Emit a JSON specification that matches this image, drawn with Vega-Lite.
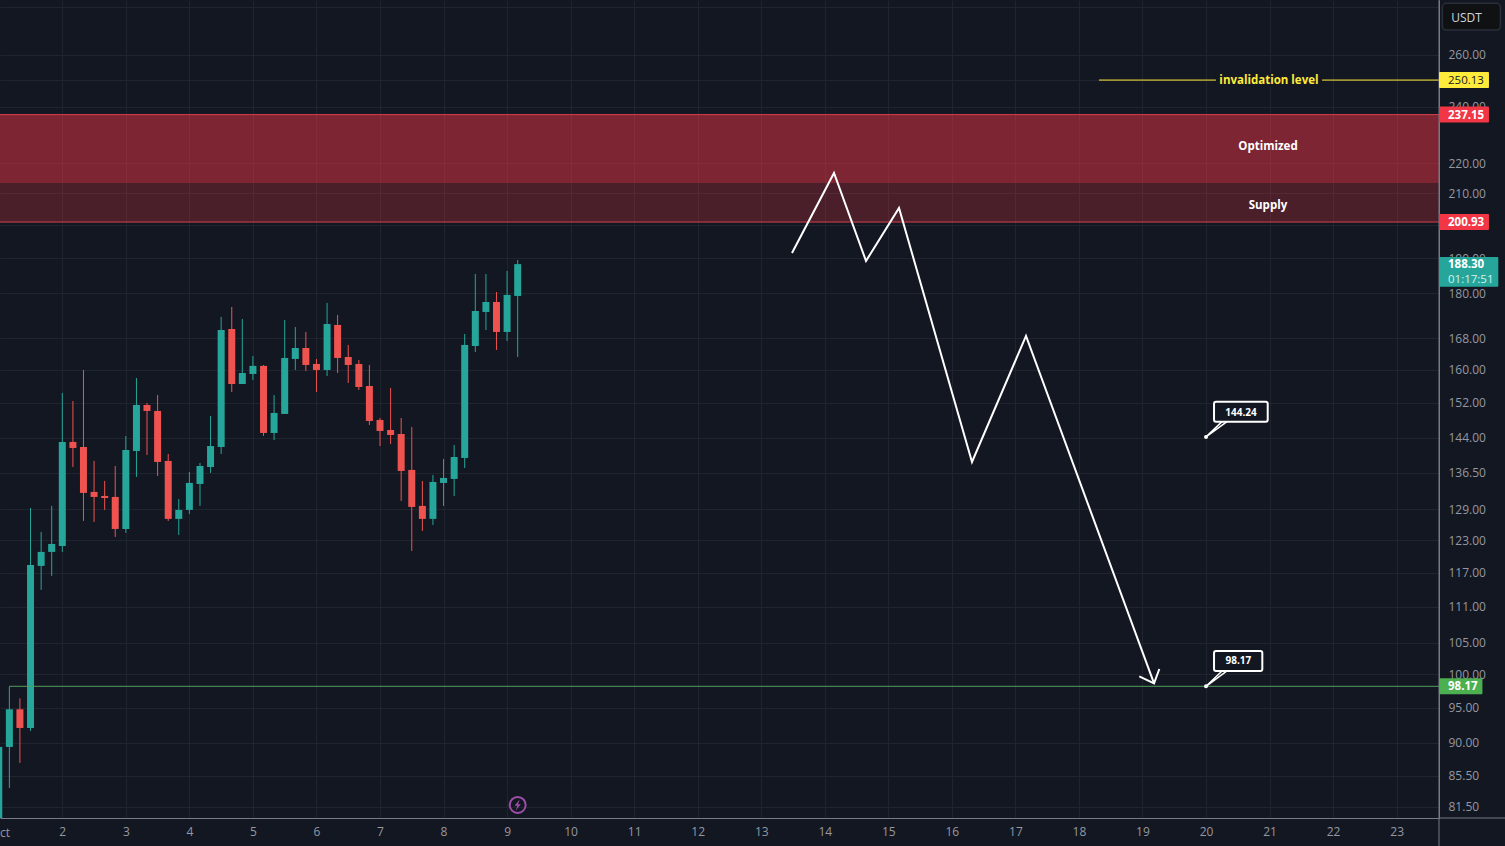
{"$schema":"https://vega.github.io/schema/vega-lite/v6.json","width":1439,"height":818,"autosize":{"type":"none"},"padding":{"left":0,"top":0,"right":66,"bottom":28},"background":"#131722","config":{"view":{"stroke":null},"font":"Open Sans"},
"datasets":{"candles":[
{"day":1.000,"open":78,"high":90,"low":76,"close":89.4},
{"day":1.167,"open":89.40,"high":98.10,"low":83.92,"close":94.75},
{"day":1.333,"open":94.75,"high":96.37,"low":87.22,"close":92.06},
{"day":1.500,"open":92.06,"high":129.27,"low":91.64,"close":118.39},
{"day":1.667,"open":118.21,"high":124.57,"low":113.91,"close":120.79},
{"day":1.833,"open":120.79,"high":129.67,"low":116.40,"close":122.28},
{"day":2.000,"open":121.91,"high":154.36,"low":120.79,"close":143.12},
{"day":2.167,"open":143.12,"high":152.46,"low":137.70,"close":141.80},
{"day":2.333,"open":142.01,"high":159.93,"low":126.70,"close":132.30},
{"day":2.500,"open":132.50,"high":138.99,"low":126.51,"close":131.48},
{"day":2.667,"open":131.68,"high":134.76,"low":128.87,"close":131.27},
{"day":2.833,"open":131.48,"high":137.91,"low":123.61,"close":125.14},
{"day":3.000,"open":125.14,"high":144.45,"low":124.38,"close":141.36},
{"day":3.167,"open":141.14,"high":157.97,"low":135.60,"close":151.52},
{"day":3.333,"open":151.52,"high":151.99,"low":140.27,"close":150.13},
{"day":3.500,"open":150.13,"high":153.88,"low":135.80,"close":138.77},
{"day":3.667,"open":138.99,"high":140.49,"low":126.70,"close":127.10},
{"day":3.833,"open":127.10,"high":131.07,"low":123.99,"close":128.87},
{"day":4.000,"open":128.87,"high":136.65,"low":128.08,"close":134.35},
{"day":4.167,"open":134.14,"high":138.56,"low":129.67,"close":137.91},
{"day":4.333,"open":137.70,"high":148.97,"low":136.44,"close":142.22},
{"day":4.500,"open":142.01,"high":173.56,"low":140.49,"close":170.11},
{"day":4.667,"open":170.37,"high":176.26,"low":154.59,"close":156.51},
{"day":4.833,"open":156.51,"high":173.02,"low":156.51,"close":159.19},
{"day":5.000,"open":158.95,"high":163.42,"low":157.48,"close":160.94},
{"day":5.167,"open":160.94,"high":161.17,"low":144.45,"close":145.12},
{"day":5.333,"open":145.12,"high":153.88,"low":143.56,"close":149.67},
{"day":5.500,"open":149.44,"high":172.75,"low":149.44,"close":162.92},
{"day":5.667,"open":162.67,"high":170.89,"low":159.93,"close":165.45},
{"day":5.833,"open":165.45,"high":169.59,"low":159.68,"close":161.17},
{"day":6.000,"open":161.42,"high":162.67,"low":154.59,"close":159.93},
{"day":6.167,"open":159.93,"high":177.35,"low":158.45,"close":171.69},
{"day":6.333,"open":171.43,"high":174.09,"low":159.19,"close":162.92},
{"day":6.500,"open":163.17,"high":166.22,"low":156.75,"close":161.17},
{"day":6.667,"open":161.42,"high":162.42,"low":155.07,"close":155.79},
{"day":6.833,"open":156.03,"high":161.17,"low":146.92,"close":147.83},
{"day":7.000,"open":148.06,"high":148.51,"low":142.22,"close":145.57},
{"day":7.167,"open":145.79,"high":155.55,"low":142.67,"close":144.67},
{"day":7.333,"open":144.89,"high":148.51,"low":130.67,"close":136.86},
{"day":7.500,"open":137.07,"high":146.46,"low":120.97,"close":129.47},
{"day":7.667,"open":129.67,"high":134.76,"low":124.76,"close":127.10},
{"day":7.833,"open":127.10,"high":136.02,"low":125.91,"close":134.56},
{"day":8.000,"open":134.35,"high":139.41,"low":129.67,"close":135.39},
{"day":8.167,"open":135.18,"high":142.45,"low":131.68,"close":139.84},
{"day":8.333,"open":139.63,"high":169.07,"low":137.49,"close":166.22},
{"day":8.500,"open":165.96,"high":185.46,"low":164.43,"close":175.17},
{"day":8.667,"open":174.90,"high":185.46,"low":170.11,"close":177.62},
{"day":8.833,"open":177.62,"high":180.38,"low":164.94,"close":169.59},
{"day":9.000,"open":169.59,"high":186.32,"low":167.25,"close":179.56},
{"day":9.167,"open":179.28,"high":189.51,"low":163.17,"close":188.30}
],
"paths":[
{"path":"projection","seq":1,"day":13.484,"price":191.56},
{"path":"projection","seq":2,"day":14.145,"price":216.73},
{"path":"projection","seq":3,"day":14.649,"price":189.22},
{"path":"projection","seq":4,"day":15.168,"price":205.34},
{"path":"projection","seq":5,"day":16.317,"price":138.77},
{"path":"projection","seq":6,"day":17.167,"price":168.55},
{"path":"projection","seq":7,"day":19.182,"price":98.62},
{"path":"arrowhead","seq":1,"day":18.95,"price":99.70},
{"path":"arrowhead","seq":2,"day":19.182,"price":98.62},
{"path":"arrowhead","seq":3,"day":19.265,"price":100.83}
],
"tails":[
{"path":"t144","seq":1,"day":20.252,"price":147.67},
{"path":"t144","seq":2,"day":20.0,"price":144.24},
{"path":"t144","seq":3,"day":20.33,"price":147.67},
{"path":"t98","seq":1,"day":20.252,"price":100.52},
{"path":"t98","seq":2,"day":20.0,"price":98.17},
{"path":"t98","seq":3,"day":20.33,"price":100.52}
],
"boxes":[
{"label":"144.24","left":20.126,"right":20.971,"top":152.30,"bottom":147.67,"mid":20.55,"textPrice":150.0},
{"label":"98.17","left":20.126,"right":20.886,"top":103.67,"bottom":100.52,"mid":20.51,"textPrice":102.16}
],
"levels":[
{"from":18.316,"to":20.158,"price":250.13},
{"from":21.826,"to":23.667,"price":250.13}
]},
"layer":[
{"data":{"values":[{"lo":200.93,"hi":237.15}]},"mark":{"type":"rect","color":"#f23645","opacity":0.25},"encoding":{"y":{"field":"lo","type":"quantitative","title":null},"y2":{"field":"hi"}}},
{"data":{"values":[{"lo":213.43,"hi":237.15}]},"mark":{"type":"rect","color":"#f23645","opacity":0.3},"encoding":{"y":{"field":"lo","type":"quantitative","title":null},"y2":{"field":"hi"}}},
{"data":{"values":[{"price":237.15},{"price":200.93}]},"mark":{"type":"rule","color":"#d8404e","strokeWidth":1},"encoding":{"y":{"field":"price","type":"quantitative","title":null}}},
{"data":{"name":"candles"},"mark":{"type":"rule","strokeWidth":1,"clip":true},"encoding":{
"x":{"field":"day","type":"quantitative","title":null,"scale":{"domain":[1.0195,23.6666],"nice":false,"zero":false,"padding":0},"axis":{"orient":"bottom","title":null,"values":[2,3,4,5,6,7,8,9,10,11,12,13,14,15,16,17,18,19,20,21,22,23],"format":"d","grid":true,"gridColor":"#20242e","gridWidth":1,"ticks":false,"domainColor":"#787b86","domainWidth":1,"labelColor":"#9598a1","labelFontSize":12,"labelPadding":8,"labelDx":-1,"labelOverlap":false,"labelFlush":false,"labelBound":false}},
"y":{"field":"low","type":"quantitative","title":null,"scale":{"type":"log","domain":[80.12,283.02],"nice":false,"zero":false},"axis":{"orient":"right","title":null,"values":[280,260,250,240,220,210,200,190,180,168,160,152,144,136.5,129,123,117,111,105,100,95,90,85.5,81.5],"labelExpr":"datum.value===280||datum.value===250||datum.value===200?'':format(datum.value,'.2f')","grid":true,"gridColor":"#20242e","gridWidth":1,"ticks":false,"domainColor":"#787b86","domainWidth":1,"labelColor":"#9598a1","labelFontSize":12,"labelPadding":9,"labelOverlap":false,"labelFlush":false,"labelBound":false}},
"y2":{"field":"high"},
"color":{"condition":{"test":"datum.close>=datum.open","value":"#26a69a"},"value":"#ef5350"}}},
{"data":{"name":"candles"},"mark":{"type":"bar","size":7,"clip":true},"encoding":{
"x":{"field":"day","type":"quantitative","title":null},
"y":{"field":"open","type":"quantitative","title":null},
"y2":{"field":"close"},
"color":{"condition":{"test":"datum.close>=datum.open","value":"#26a69a"},"value":"#ef5350"}}},
{"data":{"values":[{"from":1.162,"to":23.667,"price":98.17}]},"mark":{"type":"rule","color":"#4f9e5f","strokeWidth":1},"encoding":{"x":{"field":"from","type":"quantitative","title":null},"x2":{"field":"to"},"y":{"field":"price","type":"quantitative","title":null}}},
{"data":{"name":"levels"},"mark":{"type":"rule","color":"#ffeb3b","strokeWidth":1},"encoding":{"x":{"field":"from","type":"quantitative","title":null},"x2":{"field":"to"},"y":{"field":"price","type":"quantitative","title":null}}},
{"data":{"name":"paths"},"mark":{"type":"line","color":"#ffffff","strokeWidth":2,"strokeJoin":"miter"},"encoding":{"x":{"field":"day","type":"quantitative","title":null},"y":{"field":"price","type":"quantitative","title":null},"detail":{"field":"path"},"order":{"field":"seq"}}},
{"data":{"name":"tails"},"mark":{"type":"line","color":"#ffffff","strokeWidth":1.5},"encoding":{"x":{"field":"day","type":"quantitative","title":null},"y":{"field":"price","type":"quantitative","title":null},"detail":{"field":"path"},"order":{"field":"seq"}}},
{"data":{"name":"boxes"},"mark":{"type":"rect","fill":"#131722","stroke":"#ffffff","strokeWidth":2,"cornerRadius":2},"encoding":{"x":{"field":"left","type":"quantitative","title":null},"x2":{"field":"right"},"y":{"field":"bottom","type":"quantitative","title":null},"y2":{"field":"top"}}},
{"data":{"name":"boxes"},"mark":{"type":"text","color":"#ffffff","fontSize":10,"fontWeight":"bold","align":"center","baseline":"middle","dy":1},"encoding":{"x":{"field":"mid","type":"quantitative","title":null},"y":{"field":"textPrice","type":"quantitative","title":null},"text":{"field":"label"}}},
{"data":{"values":[{"day":20.0,"price":144.24},{"day":20.0,"price":98.17}]},"mark":{"type":"point","filled":true,"color":"#ffffff","size":16,"opacity":1},"encoding":{"x":{"field":"day","type":"quantitative","title":null},"y":{"field":"price","type":"quantitative","title":null}}},
{"data":{"values":[{"day":20.975,"price":225.95,"label":"Optimized"},{"day":20.975,"price":206.29,"label":"Supply"}]},"mark":{"type":"text","color":"#ffffff","fontSize":11.5,"fontWeight":"bold","align":"center","baseline":"middle","dy":1},"encoding":{"x":{"field":"day","type":"quantitative","title":null},"y":{"field":"price","type":"quantitative","title":null},"text":{"field":"label"}}},
{"data":{"values":[{"day":20.99,"price":250.13}]},"mark":{"type":"rect","color":"#131722","height":14,"width":106},"encoding":{"x":{"field":"day","type":"quantitative","title":null},"y":{"field":"price","type":"quantitative","title":null}}},
{"data":{"values":[{"day":20.99,"price":250.13,"label":"invalidation level"}]},"mark":{"type":"text","color":"#ffeb3b","fontSize":11.5,"fontWeight":"bold","align":"center","baseline":"middle","dy":1},"encoding":{"x":{"field":"day","type":"quantitative","title":null},"y":{"field":"price","type":"quantitative","title":null},"text":{"field":"label"}}},
{"data":{"values":[{"day":9.167,"price":81.75}]},"mark":{"type":"point","filled":false,"color":"#9c4fa8","strokeWidth":2,"size":254,"opacity":1},"encoding":{"x":{"field":"day","type":"quantitative","title":null},"y":{"field":"price","type":"quantitative","title":null}}},
{"data":{"values":[{"day":9.167,"price":81.75}]},"mark":{"type":"point","filled":true,"color":"#9c4fa8","size":250,"opacity":1,"shape":"M0.25,-0.7L-0.4,0.1L-0.05,0.1L-0.25,0.7L0.4,-0.1L0.05,-0.1Z"},"encoding":{"x":{"field":"day","type":"quantitative","title":null},"y":{"field":"price","type":"quantitative","title":null}}},
{"data":{"values":[{"day":1.0195,"price":80.12,"label":"ct"}]},"mark":{"type":"text","color":"#9598a1","fontSize":12,"align":"left","baseline":"middle","dy":15},"encoding":{"x":{"field":"day","type":"quantitative","title":null},"y":{"field":"price","type":"quantitative","title":null},"text":{"field":"label"}}},
{"data":{"values":[{"top":283.02,"end":76.74}]},"mark":{"type":"rule","color":"#787b86","strokeWidth":1},"encoding":{"x":{"datum":23.6666},"y":{"field":"top","type":"quantitative","title":null},"y2":{"field":"end"}}},
{"data":{"values":[{"price":80.12}]},"mark":{"type":"rule","color":"#787b86","strokeWidth":1},"encoding":{"x":{"datum":23.6666},"x2":{"datum":24.705},"y":{"field":"price","type":"quantitative","title":null}}},
{"data":{"values":[{"price":250.13}]},"mark":{"type":"rect","color":"#ffeb3b","height":16,"cornerRadius":1},"encoding":{"x":{"datum":23.6666},"x2":{"datum":24.453},"y":{"field":"price","type":"quantitative","title":null}}},
{"data":{"values":[{"price":237.15},{"price":200.93}]},"mark":{"type":"rect","color":"#f23645","height":16,"cornerRadius":1},"encoding":{"x":{"datum":23.6666},"x2":{"datum":24.453},"y":{"field":"price","type":"quantitative","title":null}}},
{"data":{"values":[{"price":98.17}]},"mark":{"type":"rect","color":"#4caf50","height":16,"cornerRadius":1},"encoding":{"x":{"datum":23.6666},"x2":{"datum":24.35},"y":{"field":"price","type":"quantitative","title":null}}},
{"data":{"values":[{"lo":181.86,"hi":190.39}]},"mark":{"type":"rect","color":"#26a69a","cornerRadius":1},"encoding":{"x":{"datum":23.6666},"x2":{"datum":24.6},"y":{"field":"lo","type":"quantitative","title":null},"y2":{"field":"hi"}}},
{"data":{"values":[{"lo":270.2,"hi":281.6}]},"mark":{"type":"rect","fill":"#0f1113","stroke":"#2a2e39","strokeWidth":1.5,"cornerRadius":4},"encoding":{"x":{"datum":23.72},"x2":{"datum":24.633},"y":{"field":"lo","type":"quantitative","title":null},"y2":{"field":"hi"}}},
{"data":{"values":[{"price":275.7,"label":"USDT"}]},"mark":{"type":"text","color":"#d1d4dc","fontSize":12,"align":"left","baseline":"middle","dy":1},"encoding":{"x":{"datum":23.86},"y":{"field":"price","type":"quantitative","title":null},"text":{"field":"label"}}},
{"data":{"values":[{"price":250.13,"label":"250.13"}]},"mark":{"type":"text","color":"#131722","fontSize":11.5,"align":"left","baseline":"middle","dy":1},"encoding":{"x":{"datum":23.808},"y":{"field":"price","type":"quantitative","title":null},"text":{"field":"label"}}},
{"data":{"values":[{"price":237.15,"label":"237.15"},{"price":200.93,"label":"200.93"},{"price":98.17,"label":"98.17"},{"price":188.3,"label":"188.30"}]},"mark":{"type":"text","color":"#ffffff","fontSize":11.5,"fontWeight":"bold","align":"left","baseline":"middle","dy":1},"encoding":{"x":{"datum":23.808},"y":{"field":"price","type":"quantitative","title":null},"text":{"field":"label"}}},
{"data":{"values":[{"price":184.12,"label":"01:17:51"}]},"mark":{"type":"text","color":"#d6f0ec","fontSize":11.5,"align":"left","baseline":"middle","dy":1},"encoding":{"x":{"datum":23.808},"y":{"field":"price","type":"quantitative","title":null},"text":{"field":"label"}}}
]}
